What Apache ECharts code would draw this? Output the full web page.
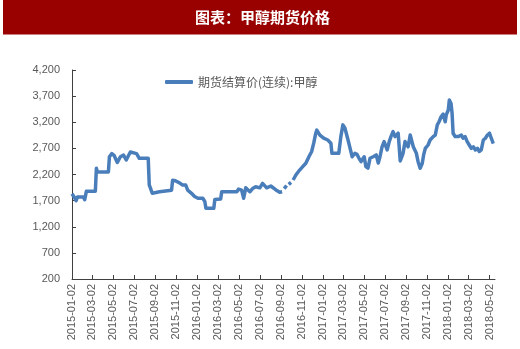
<!DOCTYPE html>
<html>
<head>
<meta charset="utf-8">
<script src="https://cdn.jsdelivr.net/npm/echarts@6/dist/echarts.min.js"></script>
<style>html,body{margin:0;padding:0;background:#fff}#c{width:520px;height:349px}</style>
</head>
<body>
<div id="c"></div>
<script>
// ---- data ----
const seriesName = '期货结算价(连续):甲醇';
const dates = [
'2015-01-02','2015-01-09','2015-01-14','2015-01-18','2015-02-04','2015-02-08','2015-02-13','2015-03-11','2015-03-14','2015-03-17',
'2015-04-18','2015-04-21','2015-04-28','2015-05-05','2015-05-14','2015-05-23','2015-06-01','2015-06-09','2015-06-21','2015-07-09',
'2015-07-17','2015-08-12','2015-08-15','2015-08-24','2015-09-14','2015-09-17','2015-10-19','2015-10-22','2015-10-30','2015-11-11',
'2015-11-20','2015-11-29','2015-12-05','2015-12-16','2015-12-25','2016-01-04','2016-01-18','2016-01-24','2016-01-27','2016-02-19',
'2016-02-22','2016-03-10','2016-03-13','2016-04-26','2016-05-01','2016-05-10','2016-05-16','2016-05-22','2016-06-03','2016-06-11',
'2016-06-20','2016-07-02','2016-07-10','2016-07-22','2016-08-03','2016-08-18','2016-08-29','2016-09-05','2016-09-08','2016-09-11',
'2016-09-18','2016-09-21','2016-09-24','2016-10-01','2016-10-04','2016-10-07','2016-10-15','2016-10-26','2016-11-04','2016-11-13',
'2016-11-22','2016-11-30','2016-12-06','2016-12-12','2016-12-15','2016-12-24','2017-01-04','2017-01-16','2017-01-25','2017-01-28',
'2017-02-17','2017-02-23','2017-03-01','2017-03-07','2017-03-16','2017-03-22','2017-03-28','2017-04-05','2017-04-11','2017-04-17',
'2017-04-23','2017-05-02','2017-05-07','2017-05-13','2017-05-19','2017-05-28','2017-06-06','2017-06-12','2017-06-17','2017-06-23',
'2017-06-29','2017-07-08','2017-07-14','2017-07-19','2017-07-25','2017-07-31','2017-08-09','2017-08-15','2017-08-23','2017-08-29',
'2017-09-07','2017-09-13','2017-09-17','2017-09-22','2017-10-01','2017-10-06','2017-10-12','2017-10-18','2017-10-22','2017-10-27',
'2017-11-04','2017-11-10','2017-11-19','2017-11-25','2017-12-01','2017-12-06','2017-12-12','2017-12-18','2017-12-24','2017-12-27',
'2018-01-02','2018-01-05','2018-01-10','2018-01-13','2018-01-16','2018-01-22','2018-01-31','2018-02-09','2018-02-14','2018-02-20',
'2018-02-26','2018-03-04','2018-03-10','2018-03-16','2018-03-22','2018-03-28','2018-04-02','2018-04-08','2018-04-14','2018-04-20',
'2018-04-26','2018-05-02','2018-05-07','2018-05-13'
];
const prices = [
1830,1760,1700,1770,1770,1720,1880,1880,2320,2250,
2250,2540,2600,2560,2430,2540,2570,2480,2630,2600,
2510,2510,2000,1840,1870,1900,1900,2090,2080,2040,
2000,2000,1900,1840,1780,1745,1745,1680,1555,1555,
1720,1730,1870,1870,1920,1900,1745,1945,1870,1930,
1965,1945,2030,1945,1980,1905,1860,1870,null,1930,
1990,null,2010,2050,null,2095,2190,2285,2350,2415,
2540,2640,2800,2990,3050,2955,2895,2860,2800,2605,
2605,2925,3150,3085,2860,2700,2540,2605,2585,2510,
2445,2540,2350,2320,2510,2540,2575,2420,2540,2730,
2830,2670,2830,2925,3020,2925,2990,2460,2600,2830,
2730,2955,2950,2730,2605,2445,2320,2410,2570,2700,
2765,2860,2925,2955,3150,3210,3305,3355,3210,3340,
3435,3625,3560,3370,2990,2925,2925,2955,2895,2925,
2830,2765,2700,2730,2670,2700,2640,2670,2860,2895,
2955,2990,2955,2790
];
const tickDates = [
'2015-01-02','2015-03-02','2015-05-02','2015-07-02','2015-09-02','2015-11-02',
'2016-01-02','2016-03-02','2016-05-02','2016-07-02','2016-09-02','2016-11-02',
'2017-01-02','2017-03-02','2017-05-02','2017-07-02','2017-09-02','2017-11-02',
'2018-01-02','2018-03-02','2018-05-02'
];
const yTicks = [200, 700, 1200, 1700, 2200, 2700, 3200, 3700, 4200];
const axisStart = '2015-01-02';
const axisEnd = '2018-05-18';

// ---- helpers ----
function ts(s){ const p = s.split('-').map(Number); return Date.UTC(p[0], p[1]-1, p[2]); }
function pad(n){ return (n < 10 ? '0' : '') + n; }
function fmtDate(v){ const d = new Date(v); return d.getUTCFullYear() + '-' + pad(d.getUTCMonth()+1) + '-' + pad(d.getUTCDate()); }
function fmtNum(v){ return String(v).replace(/\B(?=(\d{3})+(?!\d))/g, ','); }

const lineData = dates.map((d, i) => [ts(d), prices[i] === null ? '-' : prices[i]]);
const tickVals = tickDates.map(ts);

const chart = echarts.init(document.getElementById('c'), null, {renderer: 'canvas'});
chart.setOption({
  animation: false,
  backgroundColor: '#ffffff',
  graphic: [
    {type: 'rect', shape: {x: 3, y: 0, width: 514, height: 34.5}, style: {fill: '#990000'}, silent: true},
    {type: 'text', x: 262.5, y: 17.5, style: {text: '图表：甲醇期货价格', fill: '#ffffff', font: 'bold 15px "Noto Sans CJK SC", sans-serif', textAlign: 'center', textVerticalAlign: 'middle'}}
  ],
  legend: {
    show: true,
    left: 160, top: 71,
    icon: 'roundRect', itemWidth: 28, itemHeight: 4,
    textStyle: {color: '#595959', fontSize: 12, fontFamily: '"Noto Sans CJK SC", sans-serif'},
    data: [seriesName]
  },
  grid: {left: 72, right: 25, top: 70, bottom: 70},
  xAxis: {
    type: 'value',
    min: ts(axisStart), max: ts(axisEnd),
    axisLine: {show: true, onZero: false, lineStyle: {color: '#404040', width: 1}},
    axisTick: {show: true, inside: true, length: 4, customValues: tickVals, lineStyle: {color: '#404040'}},
    axisLabel: {customValues: tickVals, rotate: 90, margin: 5, color: '#595959', fontSize: 11, fontFamily: '"Liberation Sans", Arial, sans-serif', formatter: v => fmtDate(v)},
    splitLine: {show: false}
  },
  yAxis: {
    type: 'value',
    min: yTicks[0], max: yTicks[yTicks.length-1], interval: 500,
    axisLine: {show: true, lineStyle: {color: '#404040', width: 1}},
    axisTick: {show: true, inside: true, length: 4, lineStyle: {color: '#404040'}},
    axisLabel: {margin: 12, color: '#595959', fontSize: 11, fontFamily: '"Liberation Sans", Arial, sans-serif', formatter: v => fmtNum(v)},
    splitLine: {show: false}
  },
  series: [{
    name: seriesName,
    type: 'line',
    data: lineData,
    showSymbol: false,
    symbol: 'none',
    connectNulls: false,
    itemStyle: {color: '#4a7ebb'},
    lineStyle: {color: '#4a7ebb', width: 3.5, join: 'round', cap: 'butt'}
  }]
});
</script>
</body>
</html>
